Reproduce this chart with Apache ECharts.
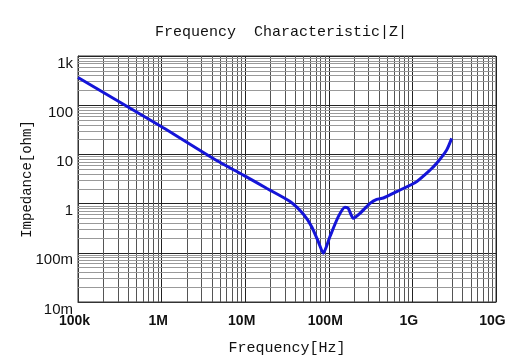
<!DOCTYPE html>
<html>
<head>
<meta charset="utf-8">
<script src="https://cdn.jsdelivr.net/npm/echarts@6/dist/echarts.min.js"></script>
<style>html,body{margin:0;padding:0;background:#fff;}#c{width:532px;height:359px;}</style>
</head>
<body>
<div id="c"></div>
<script>
var freqHz = [1e5, 1e6, 4.5e6, 9.5e6, 1.8e7, 3.44e7, 5.0e7, 6.24e7, 7.49e7, 8.59e7, 1.03e8, 1.30e8, 1.56e8, 1.71e8, 1.96e8, 2.36e8, 3.11e8, 3.74e8, 4.5e8, 6.49e8, 1.12e9, 1.63e9, 1.95e9, 2.57e9, 2.95e9];
var impedanceOhm = [365, 36.5, 7.6, 3.8, 2.05, 1.1, 0.6, 0.339, 0.168, 0.098, 0.212, 0.542, 0.841, 0.80, 0.502, 0.635, 1.01, 1.22, 1.3, 1.75, 2.79, 4.82, 6.59, 12.3, 21.2];
var xTickLabels = ['100k', '1M', '10M', '100M', '1G', '10G'];
var yTickLabels = ['10m', '100m', '1', '10', '100', '1k'];
var xDecades = [5, 6, 7, 8, 9];
var yDecades = [-2, -1, 0, 1, 2];
var minorMultipliers = [2, 3, 4, 5, 6, 7, 8, 9];

var xMinor = [], yMinor = [];
xDecades.forEach(function (d) { minorMultipliers.forEach(function (m) { xMinor.push({ xAxis: m * Math.pow(10, d) }); }); });
yDecades.forEach(function (d) { minorMultipliers.forEach(function (m) { yMinor.push({ yAxis: m * Math.pow(10, d) }); }); });

var chart = echarts.init(document.getElementById('c'));
var mono = 'Liberation Mono';
chart.setOption({
  animation: false,
  backgroundColor: '#fff',
  title: {
    text: 'Frequency  Characteristic|Z|',
    left: 276, top: 20, textAlign: 'center',
    textStyle: { fontFamily: mono, fontSize: 15, fontWeight: 'normal', color: '#111' }
  },
  grid: { left: 78, top: 56, right: 36, bottom: 57, containLabel: false, outerBoundsMode: 'none', show: true, borderColor: '#333', borderWidth: 1 },
  xAxis: {
    type: 'log', logBase: 10, min: 1e5, max: 1e10,
    name: 'Frequency[Hz]', nameLocation: 'middle', nameGap: 39, nameMoveOverlap: false,
    nameTextStyle: { fontFamily: mono, fontSize: 15, color: '#111' },
    axisLine: { show: true, lineStyle: { color: '#333', width: 1 } },
    axisTick: { show: false },
    axisLabel: {
      margin: 12, fontFamily: 'Liberation Sans', fontSize: 14, fontWeight: 'bold', color: '#111',
      padding: [0, 7, 0, 0],
      formatter: function (v) { return xTickLabels[Math.round(Math.log10(v)) - 5] || ''; }
    },
    splitLine: { show: true, lineStyle: { color: '#222', width: 1 } }
  },
  yAxis: {
    type: 'log', logBase: 10, min: 0.01, max: 1000,
    name: 'Impedance[ohm]', nameLocation: 'middle', nameGap: 44, nameMoveOverlap: false,
    nameTextStyle: { fontFamily: mono, fontSize: 14, color: '#111' },
    axisLine: { show: true, lineStyle: { color: '#333', width: 1 } },
    axisTick: { show: false },
    axisLabel: {
      margin: 5, fontFamily: 'Liberation Sans', fontSize: 15, color: '#111',
      verticalAlign: 'top',
      formatter: function (v) { return yTickLabels[Math.round(Math.log10(v)) + 2] || ''; }
    },
    splitLine: { show: true, lineStyle: { color: '#222', width: 1 } }
  },
  series: [
    {
      type: 'line', data: [], silent: true,
      markLine: { silent: true, symbol: 'none', label: { show: false }, animation: false,
        lineStyle: { color: '#555', width: 1, type: 'solid' }, emphasis: { disabled: true }, data: xMinor }
    },
    {
      type: 'line', data: [], silent: true,
      markLine: { silent: true, symbol: 'none', label: { show: false }, animation: false,
        lineStyle: { color: '#999', width: 1, type: 'solid' }, emphasis: { disabled: true }, data: yMinor }
    },
    {
      type: 'line', showSymbol: false, smooth: 0.2, z: 5,
      data: freqHz.map(function (f, i) { return [f, impedanceOhm[i]]; }),
      lineStyle: { color: '#1515d8', width: 3 }
    }
  ]
});
</script>
</body>
</html>
